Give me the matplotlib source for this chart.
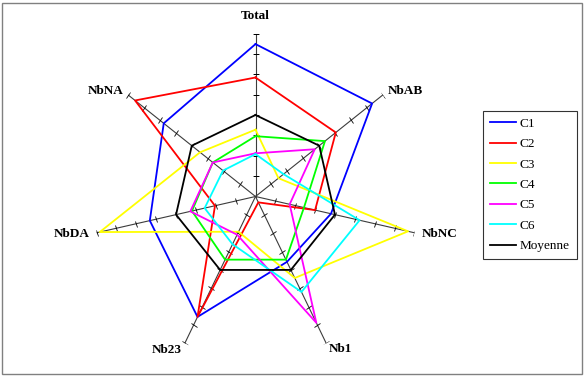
import numpy as np
import matplotlib
matplotlib.use('Agg')
import matplotlib.pyplot as plt
from matplotlib.markers import MarkerStyle
from matplotlib.transforms import Affine2D
from matplotlib.patches import Rectangle

plt.rcParams['font.family'] = ['Liberation Serif', 'DejaVu Serif']

# axes of the radar (clockwise from top)
labels = ['Total', 'NbAB', 'NbNC', 'Nb1', 'Nb23', 'NbDA', 'NbNA']

# values relative to the mean (Moyenne = 1)
c1 = [1.87, 1.83, 0.95, 0.89, 1.64, 1.33, 1.44]
c2 = [1.46, 1.26, 0.75, 0.08, 1.64, 0.51, 1.89]
c3 = [0.82, 0.36, 1.92, 1.11, 0.48, 1.96, 0.87]
c4 = [0.74, 1.09, 0.61, 0.86, 0.86, 0.80, 0.67]
c5 = [0.53, 0.93, 0.43, 1.72, 0.52, 0.82, 0.67]
c6 = [0.52, 0.44, 1.31, 1.30, 0.65, 0.64, 0.51]
moyenne = [1, 1, 1, 1, 1, 1, 1]

series_names = ['C1', 'C2', 'C3', 'C4', 'C5', 'C6', 'Moyenne']
series_vals = [c1, c2, c3, c4, c5, c6, moyenne]
colors = ['#0000ff', '#ff0000', '#ffff00', '#00ff00', '#ff00ff', '#00ffff', '#000000']

r_max = 2.0
tick_step = 0.25

W, H = 585, 377
fig = plt.figure(figsize=(W / 100, H / 100), dpi=100)

# polar axes, centre at (255.5, 196.5) px, radius 163 px
cx, cy, rad = 255.5, 196.5, 163
ax = fig.add_axes([(cx - rad) / W, (H - cy - rad) / H, 2 * rad / W, 2 * rad / H],
                  projection='polar')
ax.set_theta_offset(np.pi / 2)
ax.set_theta_direction(-1)
ax.set_ylim(0, r_max)
ax.axis('off')

n = len(labels)
angles = [2 * np.pi * i / n for i in range(n)]
ticks = np.arange(tick_step, r_max + 0.001, tick_step)

# spokes with small perpendicular tick marks
for i, a in enumerate(angles):
    ax.plot([a, a], [0, r_max], color='#3c3c3c', lw=0.8, zorder=1)
    m = MarkerStyle('_', transform=Affine2D().rotate_deg(-360 * i / n))
    ax.plot([a] * len(ticks), ticks, ls='none', marker=m, ms=5, mew=0.6,
            color='black', zorder=1)

# series
handles = []
for name, vals, col in zip(series_names, series_vals, colors):
    th = angles + [angles[0]]
    rr = list(vals) + [vals[0]]
    h, = ax.plot(th, rr, color=col, lw=1.3, label=name, zorder=3)
    handles.append(h)

# axis labels
lab_r = [2.22, 2.07, 2.09, 2.08, 2.09, 2.08, 2.07]
lab_ha = ['center', 'left', 'left', 'left', 'right', 'right', 'right']
for a, lab, r, ha in zip(angles, labels, lab_r, lab_ha):
    ax.text(a, r, lab, ha=ha, va='center', fontsize=9.5, fontweight='bold')

leg = fig.legend(handles=handles, loc='upper left',
                 bbox_to_anchor=(483 / W, 1 - 111 / H), borderaxespad=0,
                 fontsize=9.5, frameon=True, fancybox=False, edgecolor='black',
                 handlelength=2.0, handletextpad=0.3, labelspacing=0.62,
                 borderpad=0.5)
leg.get_frame().set_linewidth(0.8)

fig.add_artist(Rectangle((2 / W, 3 / H), (W - 5) / W, (H - 6) / H,
                         transform=fig.transFigure, fill=False,
                         ec='#808080', lw=1.0))

fig.savefig('out.png', dpi=100)
